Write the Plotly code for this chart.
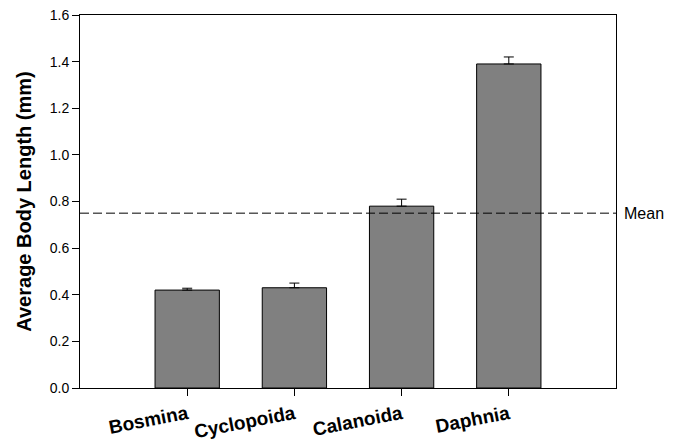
import plotly.graph_objects as go

taxa = ['Bosmina', 'Cyclopoida', 'Calanoida', 'Daphnia']
mean_length = [0.42, 0.43, 0.78, 1.39]
se_length = [0.008, 0.02, 0.03, 0.03]
overall_mean = 0.75
y_ticks = [0.0, 0.2, 0.4, 0.6, 0.8, 1.0, 1.2, 1.4, 1.6]

fig = go.Figure()

fig.add_trace(go.Bar(
    x=list(range(len(taxa))), y=mean_length, width=0.6,
    marker={'color': '#808080', 'line': {'color': 'black', 'width': 1}},
    error_y={'type': 'data', 'symmetric': False, 'array': se_length,
             'arrayminus': [0] * len(taxa), 'color': 'black',
             'thickness': 1, 'width': 5},
    showlegend=False
))

# dashed line for the overall mean
fig.add_shape(type='line', xref='paper', yref='y', x0=0, x1=1,
              y0=overall_mean, y1=overall_mean,
              line={'color': 'black', 'width': 1, 'dash': '9px,4px'})
fig.add_annotation(xref='paper', yref='y', x=1.012, y=overall_mean,
                   text='Mean', showarrow=False, xanchor='left',
                   font={'size': 16, 'color': 'black'})

fig.update_layout(
    width=685, height=442,
    margin={'l': 80, 'r': 69, 't': 15, 'b': 54},
    plot_bgcolor='white', paper_bgcolor='white',
    font={'family': 'Arial, Liberation Sans', 'color': 'black'},
)
fig.update_xaxes(
    range=[-1, 4], tickvals=list(range(len(taxa))), ticktext=taxa,
    tickangle=-11, tickfont={'size': 19, 'weight': 'bold'}, automargin=False,
    showline=True, linecolor='black', linewidth=1, mirror=True,
    ticks='outside', ticklen=7, tickcolor='black', showgrid=False,
)
fig.update_yaxes(
    range=[0, 1.6], tickvals=y_ticks, ticktext=['%.1f' % v for v in y_ticks],
    tickfont={'size': 14}, automargin=False,
    title={'text': '<b>Average Body Length (mm)</b>', 'font': {'size': 20}, 'standoff': 12},
    showline=True, linecolor='black', linewidth=1, mirror=True,
    ticks='outside', ticklen=7, tickcolor='black', showgrid=False, zeroline=False,
)

# drop the default 8px body margin so the figure sits at the page corner
fig.write_html('out.html', config={'displayModeBar': False},
               post_script="document.body.style.margin='0';")
